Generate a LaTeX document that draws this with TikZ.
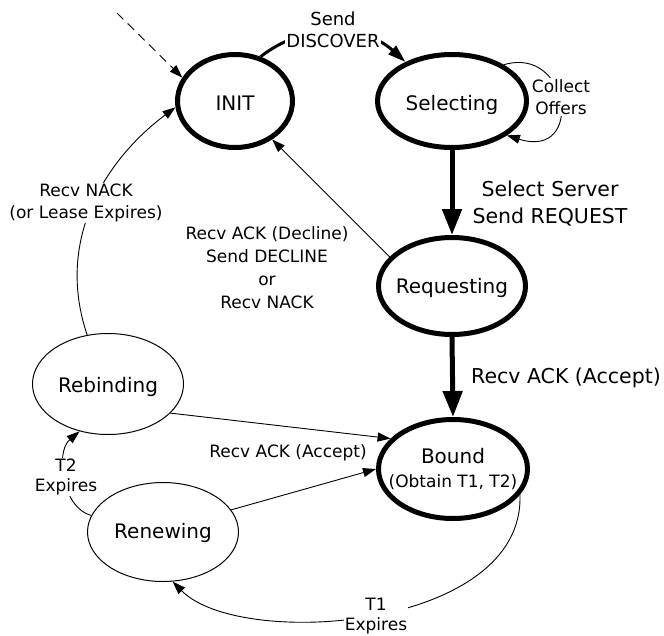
\documentclass[tikz,border=0pt]{standalone}
\usepackage{fontspec}
\setmainfont{DejaVu Sans}
\usetikzlibrary{shapes.geometric,arrows.meta}
\begin{document}
\begin{tikzpicture}[x=1pt,y=-1pt,
  thickstate/.style={ellipse,draw,line width=5pt,inner sep=0pt},
  thinstate/.style={ellipse,draw,line width=1pt,inner sep=0pt},
  stext/.style={font=\fontsize{20}{24}\selectfont,anchor=base,inner sep=0pt},
  lbl/.style={font=\fontsize{17}{22}\selectfont,align=center,inner sep=1pt},
  biglbl/.style={font=\fontsize{20.5}{27}\selectfont,align=center,inner sep=1pt},
  conn/.style={line width=0.9pt,-{Triangle[length=13pt,width=9pt]}},
  bigconn/.style={line width=5pt,-{Triangle[length=26pt,width=19pt]}},
  midconn/.style={line width=3pt,-{Triangle[length=18pt,width=11pt]}},
]
\useasboundingbox (0,0) rectangle (664,635);
% states
\node[thickstate,minimum width=115pt,minimum height=93pt] (init) at (235,101) {};
\node[thickstate,minimum width=149pt,minimum height=93pt] (sel) at (452,101) {};
\node[thickstate,minimum width=147pt,minimum height=97pt] (req) at (452,286) {};
\node[thickstate,minimum width=149pt,minimum height=99pt] (bound) at (453,469) {};
\node[thinstate,minimum width=151pt,minimum height=101pt] (reb) at (108,384) {};
\node[thinstate,minimum width=151pt,minimum height=99pt] (ren) at (163,532) {};
% state texts
\node[stext] (initt) at (235,110) {INIT};
\node[stext] (selt) at (452,110) {Selecting};
\node[stext] (reqt) at (452,293) {Requesting};
\node[stext] (boundt) at (453,463) {Bound};
\node[stext,font=\fontsize{17}{20}\selectfont] (boundt2) at (453,487) {(Obtain T1, T2)};
\node[stext] (rebt) at (108,392) {Rebinding};
\node[stext] (rent) at (163,538) {Renewing};
% connectors
\coordinate (start) at (117,13);
\draw[conn,dash pattern=on 9pt off 6pt] (start) -- (init.156);
\draw[midconn] (init.60) to[bend left=40] (sel.140);
\draw[bigconn] (sel.south) -- (req.north);
\draw[bigconn] (req.south) -- (bound.north);
\draw[conn] (req.155) -- (init.314);
\draw[conn] (sel.35) .. controls (570,45) and (585,160) .. (sel.328);
\draw[conn] (reb.113) .. controls (55,240) and (105,160) .. (init.186);
\draw[conn] (reb.335) -- (bound.154);
\draw[conn] (ren.18) -- (bound.180);
\draw[conn] (ren.167) .. controls (62,508) and (55,452) .. (reb.239);
\draw[conn] (bound.339) .. controls (525,630) and (240,650) .. (ren.281);
% labels
\node[lbl,fill=white,font=\fontsize{18}{22}\selectfont] (ldisc) at (333,30) {Send\\DISCOVER};
\node[lbl,fill=white] (lcoll) at (561,97) {Collect\\Offers};
\node[biglbl] (lsel) at (550,204) {Select Server\\Send REQUEST};
\node[biglbl,anchor=base] (lack) at (566,383) {Recv ACK (Accept)};
\node[lbl,font=\fontsize{17}{23}\selectfont] (ldecl) at (267,268) {Recv ACK (Decline)\\Send DECLINE\\or\\Recv NACK};
\node[lbl,fill=white] (lnack) at (86,203) {Recv NACK\\(or Lease Expires)};
\node[lbl,anchor=base] (lacc) at (288,457) {Recv ACK (Accept)};
\node[lbl,fill=white,font=\fontsize{17}{20}\selectfont] (lt2) at (66,477) {T2\\Expires};
\node[lbl,fill=white,font=\fontsize{17}{20}\selectfont] (lt1) at (376,616) {T1\\Expires};
\end{tikzpicture}
\end{document}
